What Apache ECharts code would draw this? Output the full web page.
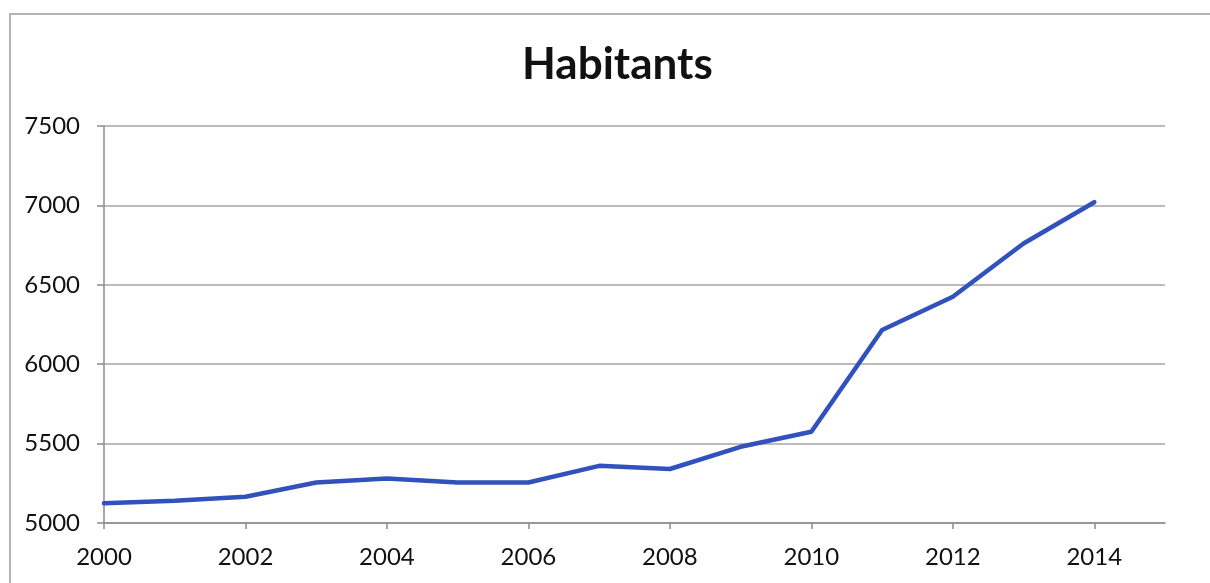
<!DOCTYPE html>
<html>
<head>
<meta charset="utf-8">
<script src="https://cdn.jsdelivr.net/npm/echarts@6/dist/echarts.min.js"></script>
<style>
  html, body { margin: 0; padding: 0; background: #fff; }
  #chart { width: 1210px; height: 583px; }
</style>
</head>
<body>
<div id="chart"></div>
<script>
// Population per year
const years = [2000, 2001, 2002, 2003, 2004, 2005, 2006, 2007, 2008, 2009, 2010, 2011, 2012, 2013, 2014];
const habitants = [5125, 5140, 5165, 5255, 5280, 5255, 5255, 5360, 5340, 5480, 5575, 6215, 6425, 6760, 7020];
const yearTicks = [2000, 2002, 2004, 2006, 2008, 2010, 2012, 2014];
const title = 'Habitants';

const chart = echarts.init(document.getElementById('chart'), null, { renderer: 'canvas' });

const axisGray = '#8c8c8c';
const gridGray = '#a6a6a6';
const font = 'Lato, "Open Sans", sans-serif';

chart.setOption({
  backgroundColor: '#fff',
  animation: false,
  title: {
    text: title,
    left: 517,
    top: 38,
    textStyle: { fontFamily: font, fontWeight: 'bold', fontSize: 44, color: '#111' }
  },
  graphic: [
    {
      type: 'polyline',
      shape: { points: [[10, 583], [10, 14], [1210, 14]] },
      style: { stroke: '#b4b4b4', lineWidth: 2, fill: null }
    }
  ],
  grid: { left: 104, right: 45, top: 126, bottom: 60 },
  xAxis: {
    type: 'value',
    min: 2000,
    max: 2015,
    splitLine: { show: false },
    axisLine: { show: true, lineStyle: { color: axisGray, width: 1.5 } },
    axisTick: { show: true, length: 6, customValues: yearTicks, lineStyle: { color: axisGray, width: 1.5 } },
    axisLabel: {
      customValues: yearTicks,
      margin: 22,
      fontFamily: font,
      fontSize: 24,
      color: '#111',
      formatter: v => String(v)
    }
  },
  yAxis: {
    type: 'value',
    min: 5000,
    max: 7500,
    interval: 500,
    axisLine: { show: true, lineStyle: { color: axisGray, width: 1.5 } },
    axisTick: { show: true, length: 7, lineStyle: { color: axisGray, width: 1.5 } },
    splitLine: { show: true, lineStyle: { color: gridGray, width: 1.5 } },
    axisLabel: { margin: 24, fontFamily: font, fontSize: 24, color: '#111', formatter: v => String(v) }
  },
  series: [
    {
      type: 'line',
      data: years.map((y, i) => [y, habitants[i]]),
      showSymbol: false,
      lineStyle: { color: '#3151bd', width: 4.5, join: 'round', cap: 'round' }
    }
  ]
});
</script>
</body>
</html>
